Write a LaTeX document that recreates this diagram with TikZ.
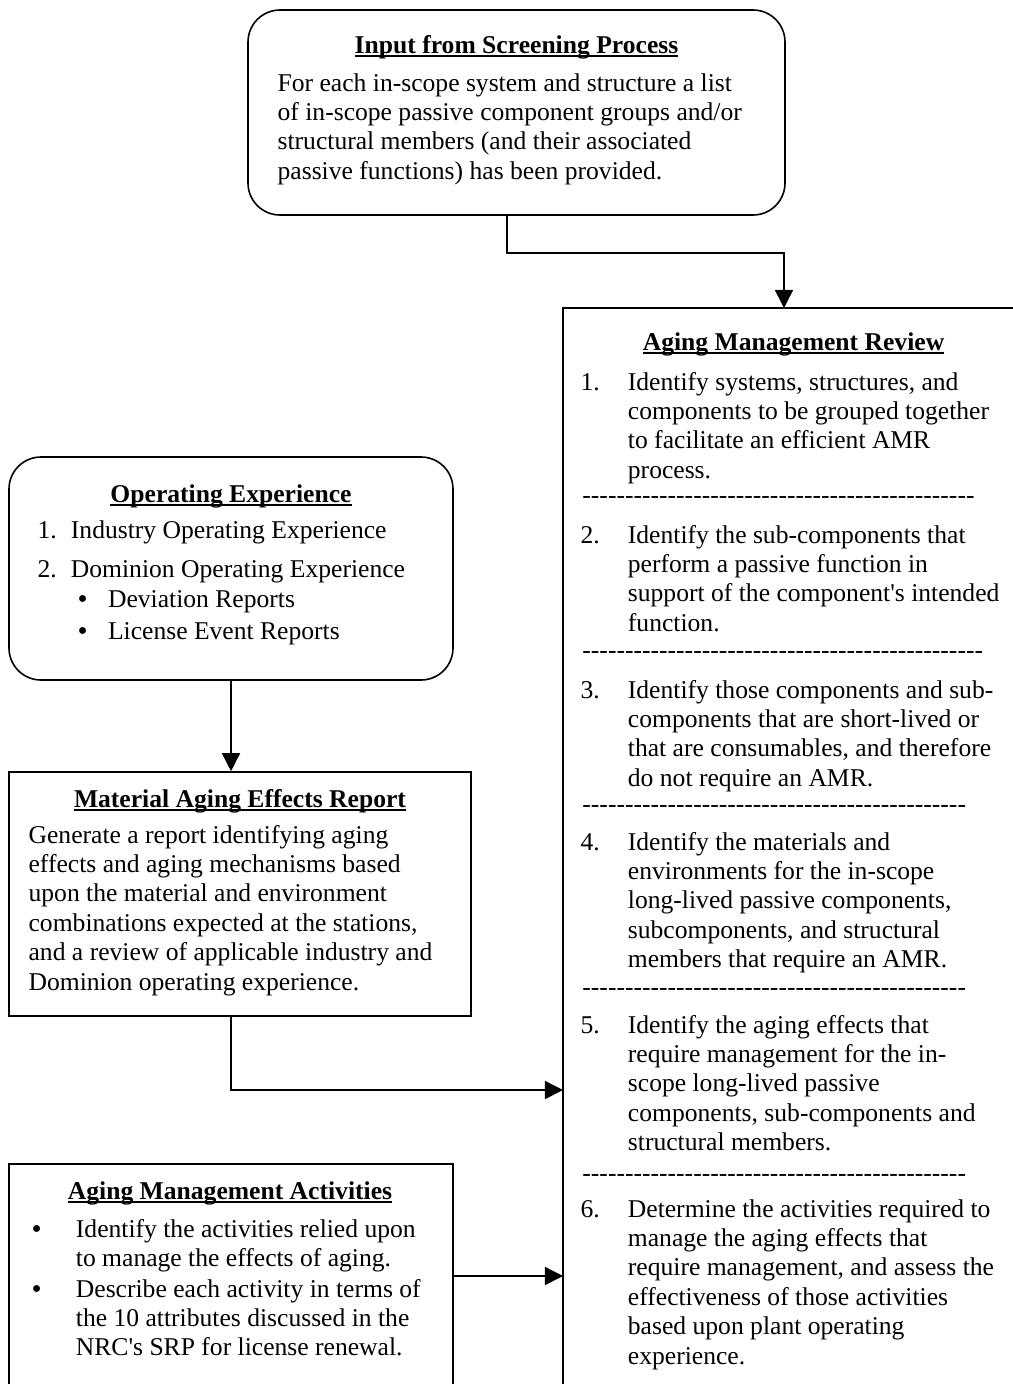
\documentclass[tikz,border=0pt]{standalone}
\usepackage{fontspec}
\setmainfont{Liberation Serif}[Ligatures=TeXOff]
\usetikzlibrary{arrows.meta,fit}

\newsavebox\hdrbox
\newcommand\hdr[1]{\sbox\hdrbox{\bfseries #1}\rlap{\rule[-1.7pt]{\wd\hdrbox}{0.95pt}}\usebox\hdrbox}
\newcommand\lbl[2]{\llap{\makebox[#1][l]{#2}}}
\newcommand\bul{\raisebox{-0.85pt}{\fontsize{13.5}{0}\selectfont\textbullet}}
\newcommand\dashes[1]{\foreach\k in {1,...,#1}{-}}
\newcommand\nsp{\spaceskip=0pt\xspaceskip=0pt\relax}

\begin{document}
\begin{tikzpicture}[x=0.46875pt, y=-0.46875pt,
    font=\fontsize{12}{13.8}\selectfont,
    box/.style={draw, line width=0.75pt, inner sep=0pt},
    rbox/.style={box, rounded corners=15pt},
    hd/.style={anchor=base, inner sep=0pt},
    txt/.style={anchor=base west, inner sep=0pt, text width=#1, execute at begin node=\nsp},
    txt/.default=240pt,
    hy/.style={anchor=base west, inner sep=0pt},
    arr/.style={line width=0.7pt, -{Triangle[length=8.5pt,width=8.5pt]}}]
\useasboundingbox (0,0) rectangle (1013,1384);
\clip (0,0) rectangle (1013,1384);

% boxes
\node[rbox, fit={(248,10) (785,215)}] (screen) {};
\node[rbox, fit={(9,457) (453,680)}] (oe) {};
\node[box, fit={(9,772) (471,1016)}] (maer) {};
\node[box, fit={(9,1164) (453,1440)}] (ama) {};
\node[box, line width=0.9pt, fit={(563,308) (1080,1440)}] (amr) {};

% input from screening
\node[hd] (screenhd) at (516.5,53) {\hdr{Input from Screening Process}};
\node[txt] (screentxt) at (277.2,91) {For each in-scope system and structure a list\\of in-scope passive component groups and/or\\structural members (and their associated\\passive functions) has been provided.};

% operating experience
\node[hd] (oehd) at (231,502) {\hdr{Operating Experience}};
\node[txt] (oe1) at (70.5,538) {\lbl{15.6pt}{1.}Industry Operating Experience};
\node[txt] (oe2) at (70.5,577) {\lbl{15.6pt}{2.}Dominion Operating Experience};
\node[txt] (oe2a) at (107.6,607) {\lbl{14.25pt}{\bul}Deviation Reports};
\node[txt] (oe2b) at (107.6,639) {\lbl{14.25pt}{\bul}License Event Reports};

% material aging effects report
\node[hd] (maerhd) at (240,807) {\hdr{Material Aging Effects Report}};
\node[txt] (maertxt) at (28.2,843) {Generate a report identifying aging\\effects and aging mechanisms based\\upon the material and environment\\combinations expected at the stations,\\and a review of applicable industry and\\Dominion operating experience.};

% aging management activities
\node[hd] (amahd) at (230,1199) {\hdr{Aging Management Activities}};
\node[txt] (ama1) at (75.5,1237) {\lbl{20.8pt}{\bul}Identify the activities relied upon\\to manage the effects of aging.};
\node[txt] (ama2) at (75.5,1297) {\lbl{20.8pt}{\bul}Describe each activity in terms of\\the 10 attributes discussed in the\\NRC's SRP for license renewal.};

% aging management review
\node[hd] (amrhd) at (793.5,350) {\hdr{Aging Management Review}};
\node[txt] (amr1) at (627.5,390) {\lbl{22.2pt}{1.}Identify systems, structures, and\\components to be grouped together\\to facilitate an efficient AMR\\process.};
\node[hy] (sep1) at (582,503) {\dashes{46}};
\node[txt] (amr2) at (627.5,543) {\lbl{22.2pt}{2.}Identify the sub-components that\\perform a passive function in\\support of the component's intended\\function.};
\node[hy] (sep2) at (582,658) {\dashes{47}};
\node[txt] (amr3) at (627.5,698) {\lbl{22.2pt}{3.}Identify those components and sub-\\components that are short-lived or\\that are consumables, and therefore\\do not require an AMR.};
\node[hy] (sep3) at (582,812) {\dashes{45}};
\node[txt] (amr4) at (627.5,850) {\lbl{22.2pt}{4.}Identify the materials and\\environments for the in-scope\\long-lived passive components,\\subcomponents, and structural\\members that require an AMR.};
\node[hy] (sep4) at (582,995) {\dashes{45}};
\node[txt] (amr5) at (627.5,1033) {\lbl{22.2pt}{5.}Identify the aging effects that\\require management for the in-\\scope long-lived passive\\components, sub-components and\\structural members.};
\node[hy] (sep5) at (582,1181) {\dashes{45}};
\node[txt] (amr6) at (627.5,1217) {\lbl{22.2pt}{6.}Determine the activities required to\\manage the aging effects that\\require management, and assess the\\effectiveness of those activities\\based upon plant operating\\experience.};

% connectors
\coordinate (amrin) at (784,308);
\coordinate (maerin) at (563,1090);
\coordinate (amain) at (563,1276);
\draw[arr] ([xshift=-4.45pt]screen.south) -- ++(0,37) -| (amrin);
\draw[arr] (oe.south) -- (oe.south |- maer.north);
\draw[arr] (oe.south |- maer.south) |- (maerin);
\draw[arr] (ama.east |- amain) -- (amain);
\end{tikzpicture}
\end{document}
